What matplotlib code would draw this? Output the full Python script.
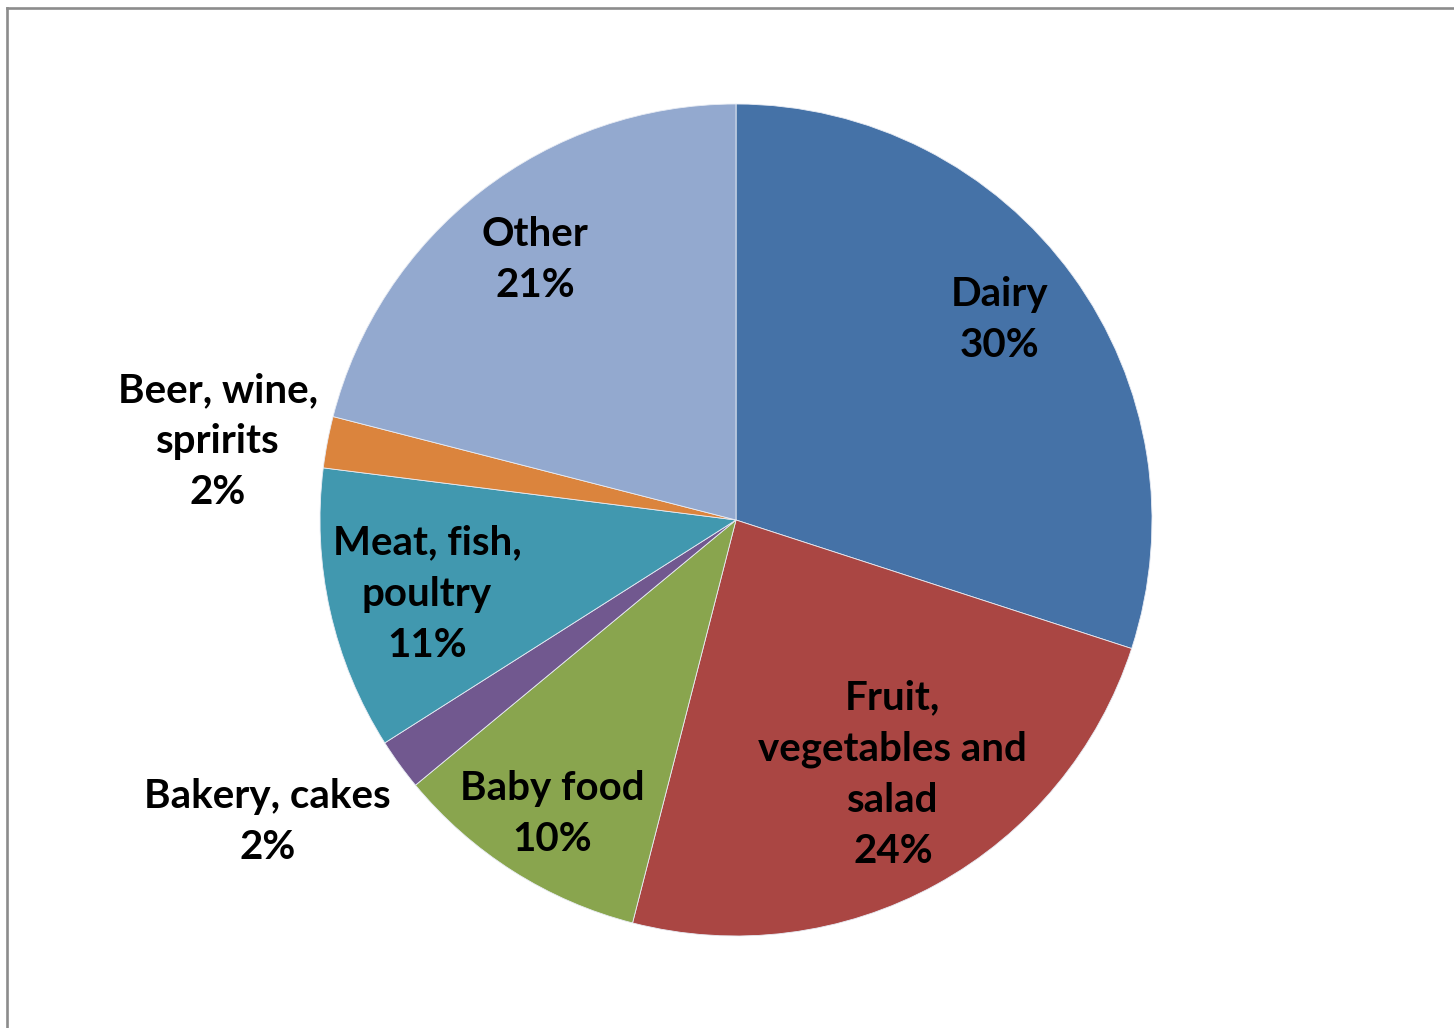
import matplotlib
matplotlib.use("Agg")
import matplotlib.pyplot as plt
from matplotlib.lines import Line2D

# Share of food waste by category (percent), drawn clockwise from 12 o'clock
categories = ["Dairy", "Fruit,\nvegetables and\nsalad", "Baby food", "Bakery, cakes",
              "Meat, fish,\npoultry", "Beer, wine,\nspririts", "Other"]
shares = [30, 24, 10, 2, 11, 2, 21]
colors = ["#4572A7", "#AA4643", "#89A54E", "#71588F", "#4198AF", "#DB843D", "#93A9CF"]

# Label anchor positions (pie radius units) for each category
label_pos = [(0.634, 0.48), (0.377, -0.612), (-0.442, -0.706), (-1.127, -0.726),
             (-0.743, -0.178), (-1.245, 0.188), (-0.483, 0.626)]

W, H = 1454, 1028
fig = plt.figure(figsize=(W / 100, H / 100), dpi=100)
fig.patch.set_facecolor("white")

# Chart frame (left and top edges visible)
fig.add_artist(Line2D([7 / W, 7 / W], [0, 1 - 8 / H], transform=fig.transFigure,
                      color="#8c8c8c", linewidth=1.9))
fig.add_artist(Line2D([7 / W, 1], [1 - 8 / H, 1 - 8 / H], transform=fig.transFigure,
                      color="#8c8c8c", linewidth=1.9))

R = 416
cx, cy = 736, 520
ax = fig.add_axes([(cx - R) / W, (H - cy - R) / H, 2 * R / W, 2 * R / H])
ax.pie(shares, colors=colors, startangle=90, counterclock=False, radius=1.0,
       wedgeprops=dict(edgecolor="#e8ecf4", linewidth=0.6))
ax.set_xlim(-1, 1)
ax.set_ylim(-1, 1)
ax.set_aspect("equal")
ax.axis("off")

for name, val, (x, y) in zip(categories, shares, label_pos):
    ax.text(x, y, f"{name}\n{val}%", ha="center", va="center",
            fontsize=29, fontweight="bold", family="Lato", color="black",
            linespacing=1.47, clip_on=False)

fig.savefig("out.png", dpi=100, facecolor="white")
